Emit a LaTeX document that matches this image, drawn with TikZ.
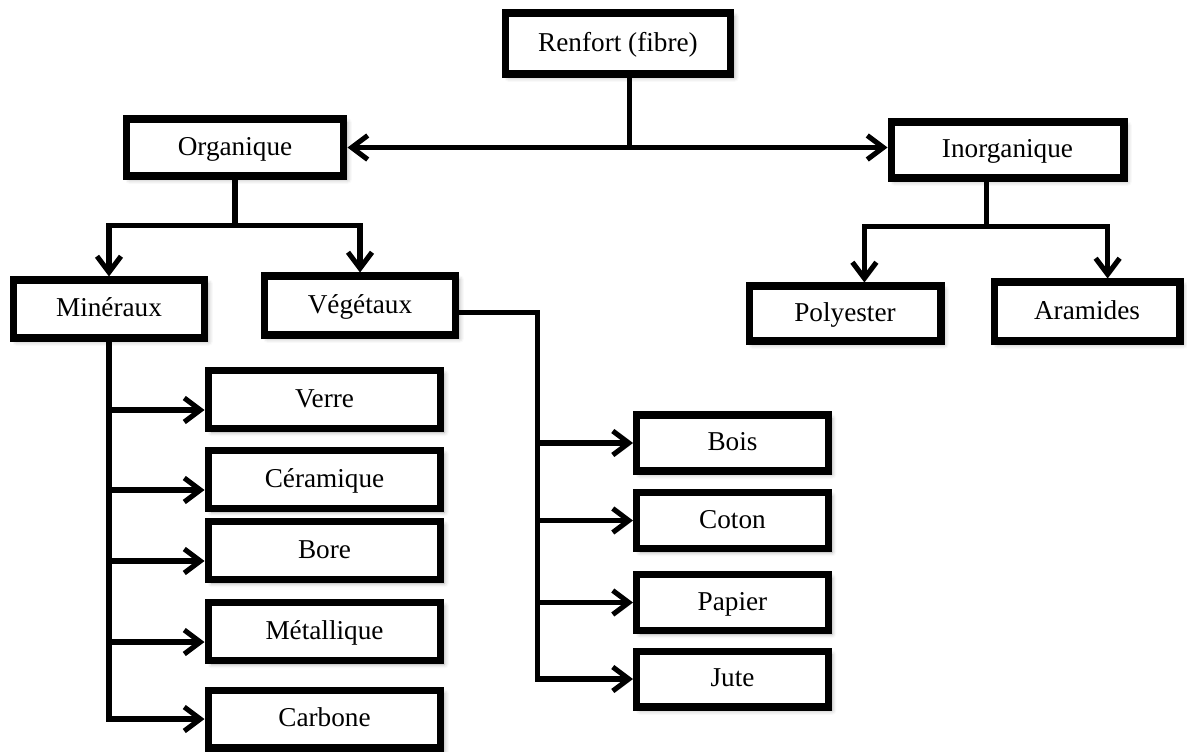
\documentclass[tikz,border=0pt]{standalone}
\usepackage{fontspec}
\setmainfont{Liberation Serif}
\usetikzlibrary{positioning,arrows.meta,shadows.blur}

\begin{document}
\begin{tikzpicture}[x=0.02cm,y=-0.02cm,
      box/.style={draw,line width=4pt,fill=white,align=center,inner sep=2pt,
        text height=14pt,text depth=5pt,
        blur shadow={shadow xshift=2pt,shadow yshift=-2pt,shadow blur radius=2.5pt,shadow opacity=35},
        font=\fontsize{15.5}{18}\selectfont},
      leftbox/.style={box,minimum width=4.66cm,minimum height=1.16cm},
      rightbox/.style={box,minimum width=3.84cm,minimum height=1.12cm},
      line/.style={line width=2.9pt},
      arrow/.style={-{Straight Barb[length=3.2mm,width=4.8mm]},line width=2.9pt},
      biarrow/.style={{Straight Barb[length=3.2mm,width=4.8mm]}-{Straight Barb[length=3.2mm,width=4.8mm]},line width=2.9pt}]
    \useasboundingbox (0,0) rectangle (1187,751);
    % top levels
    \node[box,minimum width=4.52cm,minimum height=1.22cm] (renfort) at (618,43.5) {Renfort (fibre)};
    \node[box,minimum width=4.36cm,minimum height=1.14cm] (org) at (235,147.5) {Organique};
    \node[box,minimum width=4.66cm,minimum height=1.12cm] (inorg) at (1007.5,150) {Inorganique};
    \node[box,minimum width=3.84cm,minimum height=1.16cm] (min) at (109,309) {Minéraux};
    \node[box,minimum width=3.84cm,minimum height=1.18cm] (veg) at (360,305.5) {Végétaux};
    \node[box,minimum width=3.84cm,minimum height=1.10cm] (poly) at (845,313.5) {Polyester};
    \node[box,minimum width=3.72cm,minimum height=1.18cm] (ara) at (1087,311.5) {Aramides};
    % mineral fibres
    \node[leftbox] (verre) at (324.5,399.5) {Verre};
    \node[leftbox] (ceram) at (324.5,479.5) {Céramique};
    \node[leftbox] (bore) at (324.5,550.5) {Bore};
    \node[leftbox] (metal) at (324.5,631.5) {Métallique};
    \node[leftbox] (carb) at (324.5,719) {Carbone};
    % plant fibres
    \node[rightbox] (bois) at (732.5,443) {Bois};
    \node[rightbox] (coton) at (732.5,520.5) {Coton};
    \node[rightbox] (papier) at (732.5,602.5) {Papier};
    \node[rightbox] (jute) at (732.5,679) {Jute};
    % junctions
    \coordinate (top) at (renfort.289 |- org.east);
    \coordinate[below=0.92cm of org.south] (orgj);
    \coordinate[below=0.90cm of inorg.236] (inorgj);
    \coordinate[right=1.56cm of veg.356] (vtrunk);
    % connectors
    \draw[line] (renfort.289)--(top);
    \draw[biarrow] (org.east)--(org.east -| inorg.west);
    \draw[line] (org.south)--(orgj);
    \draw[arrow] (orgj) -| (min.north);
    \draw[arrow] (orgj) -| (veg.north);
    \draw[line] (inorg.236)--(inorgj);
    \draw[arrow] (inorgj) -| (poly.58);
    \draw[arrow] (inorgj) -| (ara.58);
    \draw[arrow] (min.south) |- (carb.west);
    \foreach \n in {verre,ceram,bore,metal}
      \draw[arrow] (min.south |- \n.185)--(\n.185);
    \draw[arrow] (veg.356)--(vtrunk) |- (jute.west);
    \foreach \n in {bois,coton,papier}
      \draw[arrow] (vtrunk |- \n.west)--(\n.west);
  \end{tikzpicture}
\end{document}
